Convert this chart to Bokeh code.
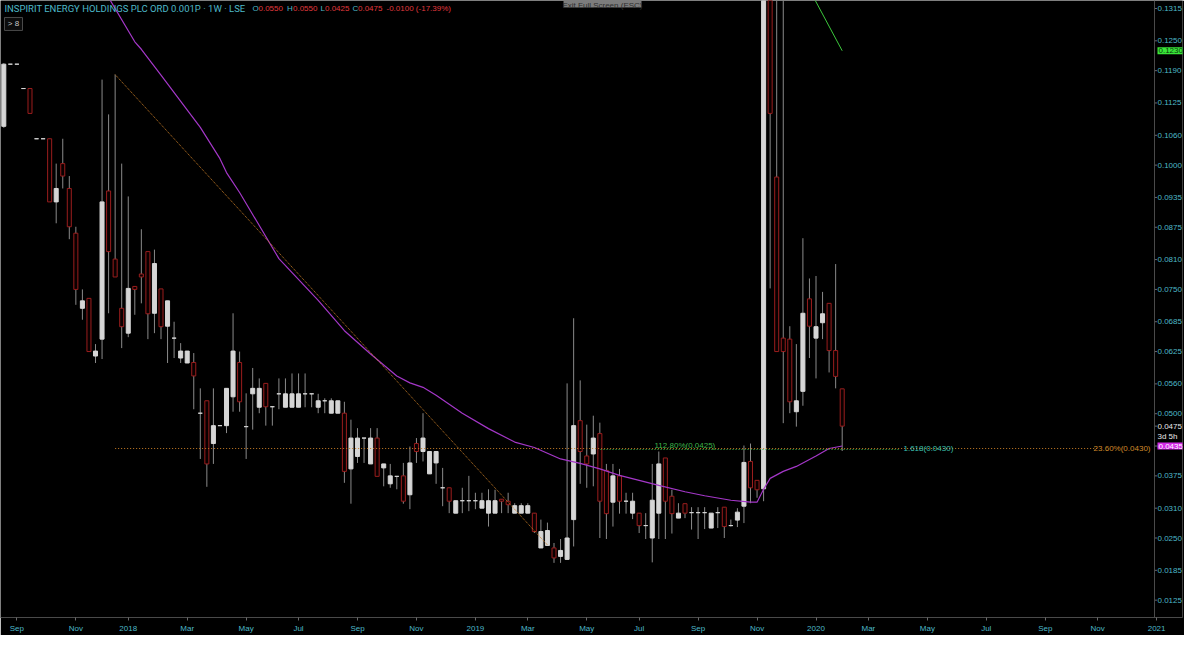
import pandas as pd
from bokeh.plotting import figure
from bokeh.models import FixedTicker, NumeralTickFormatter, Range1d, Label, Span
from bokeh.embed import file_html
from bokeh.resources import INLINE
from bokeh.core.properties import value

# ---------------- data ----------------
first_week = "2017-08-21"

opens = [0.1078, 0.1203, 0.1203, 0.1154, 0.1154, 0.1053, 0.1053, 0.1053, 0.0926, 0.1003,
         0.0953, 0.0863, 0.0712, 0.0732, 0.0616, 0.0650, 0.0948, 0.0811, 0.0712, 0.0662,
         0.0756, 0.0781, 0.0826, 0.0702, 0.0751, 0.0676, 0.0652, 0.0612, 0.0602, 0.0603,
         0.0501, 0.0526, 0.0440, 0.0476, 0.0476, 0.0534, 0.0603, 0.0474, 0.0540, 0.0513,
         0.0561, 0.0514, 0.0540, 0.0513, 0.0513, 0.0513, 0.0540, 0.0540, 0.0513, 0.0526,
         0.0501, 0.0501, 0.0501, 0.0389, 0.0414, 0.0451, 0.0399, 0.0451, 0.0391, 0.0359,
         0.0374, 0.0375, 0.0337, 0.0440, 0.0424, 0.0379, 0.0401, 0.0351, 0.0351, 0.0300,
         0.0325, 0.0325, 0.0325, 0.0310, 0.0300, 0.0300, 0.0328, 0.0324, 0.0300, 0.0300,
         0.0300, 0.0300, 0.0230, 0.0235, 0.0230, 0.0213, 0.0207, 0.0287, 0.0486, 0.0415,
         0.0419, 0.0460, 0.0386, 0.0322, 0.0375, 0.0324, 0.0300, 0.0300, 0.0275, 0.0250,
         0.0300, 0.0411, 0.0334, 0.0290, 0.0319, 0.0301, 0.0301, 0.0301, 0.0270, 0.0301,
         0.0312, 0.0275, 0.0286, 0.0314, 0.0404, 0.0366, 0.0349, 0.1650, 0.0976, 0.0652,
         0.0650, 0.0504, 0.0545, 0.0731, 0.0652, 0.0683, 0.0722, 0.0627, 0.0550]
highs = [0.1205, 0.1203, 0.1203, 0.1154, 0.1154, 0.1053, 0.1053, 0.1053, 0.1003, 0.1053,
         0.0978, 0.0876, 0.0750, 0.0732, 0.0640, 0.1172, 0.1102, 0.1182, 0.1003, 0.0937,
         0.0756, 0.0871, 0.0826, 0.0830, 0.0751, 0.0727, 0.0685, 0.0642, 0.0626, 0.0622,
         0.0551, 0.0526, 0.0551, 0.0476, 0.0551, 0.0702, 0.0625, 0.0541, 0.0592, 0.0571,
         0.0561, 0.0514, 0.0571, 0.0571, 0.0581, 0.0581, 0.0581, 0.0540, 0.0540, 0.0531,
         0.0531, 0.0526, 0.0524, 0.0488, 0.0471, 0.0451, 0.0471, 0.0471, 0.0399, 0.0399,
         0.0374, 0.0401, 0.0434, 0.0451, 0.0501, 0.0424, 0.0424, 0.0391, 0.0351, 0.0325,
         0.0351, 0.0375, 0.0341, 0.0341, 0.0348, 0.0347, 0.0328, 0.0341, 0.0320, 0.0320,
         0.0320, 0.0300, 0.0287, 0.0281, 0.0240, 0.0248, 0.0561, 0.0692, 0.0567, 0.0478,
         0.0496, 0.0482, 0.0399, 0.0399, 0.0389, 0.0341, 0.0341, 0.0300, 0.0300, 0.0399,
         0.0424, 0.0411, 0.0347, 0.0320, 0.0319, 0.0312, 0.0312, 0.0312, 0.0300, 0.0312,
         0.0312, 0.0287, 0.0310, 0.0436, 0.0440, 0.0366, 0.2000, 0.1850, 0.1500, 0.1450,
         0.0676, 0.0640, 0.0853, 0.0772, 0.0777, 0.0745, 0.0722, 0.0801, 0.0550]
lows = [0.1075, 0.1203, 0.1203, 0.1154, 0.1104, 0.1053, 0.1053, 0.0926, 0.0883, 0.0953,
        0.0851, 0.0719, 0.0689, 0.0625, 0.0602, 0.0610, 0.0702, 0.0775, 0.0632, 0.0654,
        0.0699, 0.0722, 0.0650, 0.0662, 0.0650, 0.0602, 0.0612, 0.0602, 0.0602, 0.0509,
        0.0409, 0.0353, 0.0399, 0.0476, 0.0461, 0.0504, 0.0504, 0.0409, 0.0468, 0.0501,
        0.0476, 0.0476, 0.0509, 0.0513, 0.0513, 0.0513, 0.0513, 0.0513, 0.0501, 0.0501,
        0.0501, 0.0501, 0.0361, 0.0319, 0.0401, 0.0401, 0.0399, 0.0374, 0.0354, 0.0351,
        0.0348, 0.0319, 0.0308, 0.0401, 0.0404, 0.0379, 0.0359, 0.0314, 0.0300, 0.0300,
        0.0300, 0.0304, 0.0308, 0.0310, 0.0273, 0.0300, 0.0300, 0.0300, 0.0300, 0.0300,
        0.0300, 0.0260, 0.0230, 0.0235, 0.0200, 0.0200, 0.0207, 0.0233, 0.0359, 0.0351,
        0.0354, 0.0250, 0.0248, 0.0273, 0.0299, 0.0299, 0.0288, 0.0260, 0.0248, 0.0201,
        0.0248, 0.0248, 0.0259, 0.0290, 0.0290, 0.0267, 0.0248, 0.0268, 0.0270, 0.0270,
        0.0250, 0.0273, 0.0272, 0.0280, 0.0320, 0.0331, 0.0324, 0.0752, 0.0625, 0.0481,
        0.0501, 0.0474, 0.0516, 0.0612, 0.0571, 0.0650, 0.0583, 0.0551, 0.0425]
closes = [0.1203, 0.1203, 0.1203, 0.1154, 0.1104, 0.1053, 0.1053, 0.0926, 0.0953, 0.0978,
          0.0876, 0.0750, 0.0727, 0.0625, 0.0626, 0.0926, 0.0826, 0.0775, 0.0675, 0.0752,
          0.0750, 0.0775, 0.0701, 0.0802, 0.0675, 0.0727, 0.0652, 0.0626, 0.0626, 0.0576,
          0.0501, 0.0399, 0.0476, 0.0476, 0.0551, 0.0626, 0.0524, 0.0474, 0.0551, 0.0551,
          0.0514, 0.0514, 0.0540, 0.0540, 0.0540, 0.0540, 0.0540, 0.0540, 0.0526, 0.0526,
          0.0526, 0.0526, 0.0384, 0.0451, 0.0451, 0.0451, 0.0451, 0.0374, 0.0399, 0.0375,
          0.0374, 0.0324, 0.0401, 0.0424, 0.0451, 0.0424, 0.0424, 0.0351, 0.0324, 0.0325,
          0.0325, 0.0325, 0.0325, 0.0325, 0.0325, 0.0325, 0.0324, 0.0317, 0.0315, 0.0315,
          0.0315, 0.0263, 0.0263, 0.0265, 0.0210, 0.0225, 0.0250, 0.0476, 0.0424, 0.0399,
          0.0451, 0.0324, 0.0299, 0.0375, 0.0324, 0.0324, 0.0324, 0.0275, 0.0275, 0.0326,
          0.0399, 0.0324, 0.0299, 0.0300, 0.0300, 0.0301, 0.0301, 0.0301, 0.0300, 0.0301,
          0.0273, 0.0275, 0.0302, 0.0402, 0.0351, 0.0347, 0.1700, 0.1104, 0.0625, 0.0625,
          0.0524, 0.0526, 0.0702, 0.0676, 0.0675, 0.0701, 0.0627, 0.0575, 0.0475]

# moving average : bar number -> value
ma_bars = [13, 16, 20, 21, 24, 30, 33, 34, 36, 42, 48, 52, 56, 60, 62, 64, 66, 70, 74, 78,
           81, 85, 88, 91, 94, 97, 100, 104, 107, 111, 114, 115, 116, 117, 119, 121, 124,
           126, 128]
ma_values = [0.1405, 0.1337, 0.1248, 0.1233, 0.1181, 0.1076, 0.1013, 0.0985, 0.0945, 0.0812,
             0.0728, 0.0667, 0.0620, 0.0576, 0.0562, 0.0553, 0.0537, 0.0501, 0.0470, 0.0443,
             0.0432, 0.0409, 0.0400, 0.0389, 0.0376, 0.0366, 0.0356, 0.0343, 0.0335, 0.0326,
             0.0322, 0.0322, 0.0348, 0.0370, 0.0384, 0.0394, 0.0415, 0.0430, 0.0435]

# drawings
trend_bars = [17, 83]
trend_prices = [0.1182, 0.0236]
green_trend_bars = [123, 128]
green_trend_prices = [0.1353, 0.1230]
fib_236_price = 0.0430
fib_1128_price = 0.0428

# axes
y_ticks = [0.0060, 0.0125, 0.0185, 0.0250, 0.0310, 0.0375, 0.0435, 0.0500, 0.0560, 0.0625,
           0.0685, 0.0750, 0.0810, 0.0875, 0.0935, 0.1000, 0.1060, 0.1125, 0.1190, 0.1250,
           0.1315]
x_tick_dates = ["2017-09-04", "2017-11-06", "2018-01-01", "2018-03-05", "2018-05-07",
                "2018-07-02", "2018-09-03", "2018-11-05", "2019-01-07", "2019-03-04",
                "2019-05-06", "2019-07-01", "2019-09-02", "2019-11-04", "2020-01-06",
                "2020-03-02", "2020-05-04", "2020-07-06", "2020-09-07", "2020-11-02",
                "2021-01-04"]
x_tick_labels = ["Sep", "Nov", "2018", "Mar", "May", "Jul", "Sep", "Nov", "2019", "Mar",
                 "May", "Jul", "Sep", "Nov", "2020", "Mar", "May", "Jul", "Sep", "Nov",
                 "2021"]

# ---------------- helpers (reference-pixel -> data) ----------------
DAY = 86400000
WEEK = 7 * DAY
t0 = pd.Timestamp(first_week).value // 10**6
dates = [t0 + i * WEEK for i in range(len(opens))]

BAR0_PX, PX_PER_BAR = 3.3, 6.55
FRAME_R, FRAME_B = 1182, 618
SCALE_X = 1154          # where the price-scale line is drawn
LABEL_X = 1157          # where the price-scale texts start


def xpx(px):
    return t0 + (px - BAR0_PX) / PX_PER_BAR * WEEK


def ypx(py):
    return 0.0060 + (633 - py) / 4980.0


def bar_x(b):
    return t0 + b * WEEK


BG = "#000000"
CYAN = "#4db8c8"
RED = "#e0393e"
FONT = "Liberation Sans"

p = figure(width=1184, height=635, x_axis_type="datetime", y_axis_location="right",
           x_range=Range1d(xpx(0), xpx(FRAME_R)), y_range=Range1d(ypx(FRAME_B), ypx(0)),
           output_backend="svg", toolbar_location=None, min_border=0,
           min_border_left=0, min_border_top=0, min_border_right=2, min_border_bottom=0,
           background_fill_color=BG, border_fill_color=BG, outline_line_color=None)
p.grid.visible = False

p.yaxis.ticker = FixedTicker(ticks=y_ticks)
p.yaxis.formatter = NumeralTickFormatter(format="0.0000")
x_tick_ms = [pd.Timestamp(d).value // 10**6 for d in x_tick_dates]
p.xaxis.ticker = FixedTicker(ticks=x_tick_ms)
p.xaxis.major_label_overrides = {int(t): lab for t, lab in zip(x_tick_ms, x_tick_labels)}
for ax in (p.xaxis, p.yaxis):
    ax.axis_line_color = "#4a4a4a"
    ax.major_tick_line_color = "#6a6a6a"
    ax.major_tick_out = 3
    ax.major_tick_in = 0
    ax.minor_tick_line_color = None
    ax.major_label_text_color = CYAN
    ax.major_label_text_font = FONT
    ax.major_label_text_font_size = "8px"
    ax.major_label_standoff = 3
# price scale: labels pulled back over the right strip of the frame
p.yaxis.axis_line_color = None
p.yaxis.major_tick_line_color = None
p.yaxis.major_tick_out = 0
p.yaxis.major_label_standoff = LABEL_X - FRAME_R

# price-scale line and tick dashes
p.add_layout(Span(location=xpx(SCALE_X), dimension="height", line_color="#4a4a4a",
                  line_width=1))
dash_prices = y_ticks + [closes[-1]]
p.segment(x0=[xpx(SCALE_X)] * len(dash_prices), x1=[xpx(SCALE_X + 2.5)] * len(dash_prices),
          y0=dash_prices, y1=dash_prices, line_color="#6a6a6a", line_width=1)

# ---------------- candles ----------------
up = [c >= o for o, c in zip(opens, closes)]
body_top = [max(o, c) for o, c in zip(opens, closes)]
body_bot = [min(o, c) for o, c in zip(opens, closes)]

p.segment(x0=dates, y0=lows, x1=dates, y1=highs, line_color="#8a8a8a", line_width=1)

up_idx = [i for i in range(len(opens)) if up[i]]
dn_idx = [i for i in range(len(opens)) if not up[i]]
W = 4.3 * DAY
p.vbar(x=[dates[i] for i in up_idx], top=[body_top[i] for i in up_idx],
       bottom=[body_bot[i] for i in up_idx], width=W,
       fill_color="#d6d6d6", line_color="#d6d6d6", line_width=1)
p.vbar(x=[dates[i] for i in dn_idx], top=[body_top[i] for i in dn_idx],
       bottom=[body_bot[i] for i in dn_idx], width=W,
       fill_color="#0a0000", line_color="#9a1d1d", line_width=1)

# ---------------- indicator & drawings ----------------
p.line([bar_x(b) for b in ma_bars], ma_values, line_color="#a437c8", line_width=1.2)

p.line([bar_x(b) for b in trend_bars], trend_prices, line_color="#c77c26",
       line_width=1, line_dash="1 1")
p.line([bar_x(b) for b in green_trend_bars], green_trend_prices, line_color="#3cc83c",
       line_width=1)

p.line([bar_x(trend_bars[0]), xpx(1097)], [fib_236_price, fib_236_price],
       line_color="#c77c26", line_width=1, line_dash="1 2")
p.line([xpx(600), xpx(900)], [fib_1128_price, fib_1128_price],
       line_color="#3cb44b", line_width=1, line_dash="1 2")

p.text(x=[xpx(654)], y=[fib_1128_price], text=["112.80%(0.0425)"],
       text_color="#3cb44b", text_font=value(FONT), text_font_size="8px",
       text_baseline="bottom", text_align="left")
p.text(x=[xpx(903)], y=[fib_236_price], text=["1.618(0.0430)"],
       text_color="#3cc0b0", text_font=value(FONT), text_font_size="8px",
       text_baseline="middle", text_align="left")
p.text(x=[xpx(1150)], y=[fib_236_price], text=["23.60%(0.0430)"],
       text_color="#d08a2a", text_font=value(FONT), text_font_size="8px",
       text_baseline="middle", text_align="right")

# ---------------- header texts ----------------
p.text(x=[xpx(4)], y=[ypx(8)], text=["INSPIRIT ENERGY HOLDINGS PLC ORD 0.001P · 1W · LSE"],
       text_color=CYAN, text_font=value("Roboto"), text_font_size="9.5px",
       text_baseline="middle", text_align="left")
ohlc_parts = [(252, "O", CYAN), (258, "0.0550", RED), (286.5, "H", CYAN), (292.5, "0.0550", RED),
              (320, "L", CYAN), (324.5, "0.0425", RED), (352, "C", CYAN), (357.5, "0.0475", RED),
              (386, "-0.0100 (-17.39%)", RED)]
p.text(x=[xpx(a) for a, _, _ in ohlc_parts], y=[ypx(8.5)] * len(ohlc_parts),
       text=[t for _, t, _ in ohlc_parts], text_color=[c for _, _, c in ohlc_parts],
       text_font=value(FONT), text_font_size="8px",
       text_baseline="middle", text_align="left")

p.quad(left=[xpx(4)], right=[xpx(22)], top=[ypx(17)], bottom=[ypx(30)],
       fill_color="#0c0c0c", line_color="#4a4a4a", line_width=1)
p.text(x=[xpx(13)], y=[ypx(23.5)], text=["> 8"], text_color="#c8c8c8",
       text_font=value(FONT), text_font_size="8px",
       text_baseline="middle", text_align="center")

p.quad(left=[xpx(563)], right=[xpx(641)], top=[ypx(-3)], bottom=[ypx(7)],
       fill_color="#7c7c7c", line_color=None)
p.text(x=[xpx(602)], y=[ypx(5)], text=["Exit Full Screen (ESC)"], text_color="#2e2e2e",
       text_font=value(FONT), text_font_size="8px",
       text_baseline="alphabetic", text_align="center")

# ---------------- price-scale labels ----------------
side_specs = [
    (green_trend_prices[-1], "0.1230", "#0a3a0a", "#39e639"),
    (ma_values[-1], "0.0435", "#ffffff", "#d42ae6"),
    (closes[-1], "0.0475", "#e8e8e8", None),
    (ypx(437), "3d 5h", "#e8e8e8", None),
]
for sy, txt, tc, bg in side_specs:
    kw = dict(x=xpx(LABEL_X), y=sy, text=txt, text_font_size="8px", text_font=FONT,
              text_color=tc, text_baseline="middle", text_align="left")
    if bg is not None:
        kw["background_fill_color"] = bg
        kw["padding"] = 1
    p.add_layout(Label(**kw))

open("out.html", "w").write(file_html(p, INLINE))
